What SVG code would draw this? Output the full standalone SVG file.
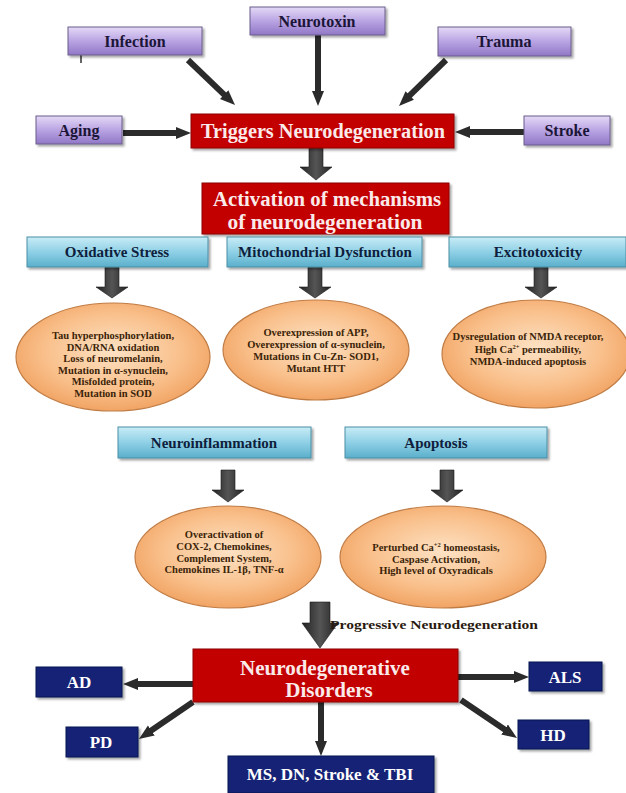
<svg xmlns="http://www.w3.org/2000/svg" width="626" height="793" viewBox="0 0 626 793">
<defs>
<linearGradient id="gPurple" x1="0" y1="0" x2="0" y2="1">
<stop offset="0" stop-color="#e4d9f6"/><stop offset="0.5" stop-color="#b9a4e3"/><stop offset="1" stop-color="#9077c6"/>
</linearGradient>
<linearGradient id="gCyan" x1="0" y1="0" x2="0" y2="1">
<stop offset="0" stop-color="#c8ecf6"/><stop offset="0.5" stop-color="#8fd0e6"/><stop offset="1" stop-color="#5aafcb"/>
</linearGradient>
<radialGradient id="gOrange" cx="0.5" cy="0.45" r="0.6">
<stop offset="0" stop-color="#fde2c4"/><stop offset="0.6" stop-color="#f9bf8a"/><stop offset="1" stop-color="#ef9d5a"/>
</radialGradient>
<linearGradient id="gArrow" x1="0" y1="0" x2="1" y2="0">
<stop offset="0" stop-color="#222"/><stop offset="0.5" stop-color="#555"/><stop offset="1" stop-color="#222"/>
</linearGradient>
<filter id="sh" x="-10%" y="-10%" width="125%" height="140%">
<feDropShadow dx="2" dy="2" stdDeviation="1.2" flood-color="#000" flood-opacity="0.35"/>
</filter>
<marker id="ah" markerUnits="userSpaceOnUse" markerWidth="16" markerHeight="14" refX="1" refY="7" orient="auto">
<path d="M0,1 L15,7 L0,13 z" fill="#2b2b2b"/>
</marker>
<style>
.purple{fill:url(#gPurple);stroke:#6b5c8c;stroke-width:1;filter:url(#sh)}
.cyan{fill:url(#gCyan);stroke:#4b8fa5;stroke-width:1;filter:url(#sh)}
.red{fill:#c30000;stroke:#8e0000;stroke-width:1;filter:url(#sh)}
.navy{fill:#132274;stroke:#0a1450;stroke-width:1;filter:url(#sh)}
.oval{fill:url(#gOrange);stroke:#c07c45;stroke-width:1.2}
text{font-family:"Liberation Serif","Times New Roman",serif;font-weight:bold;text-anchor:middle}
.tp{font-size:16px;fill:#1b1537}
.tc{font-size:15px;fill:#0e1e3c}
.tw{fill:#fbeaea}
.tn{font-size:17px;fill:#ffffff}
.te{font-size:10.5px;fill:#3b2408}
.thin{stroke:#2b2b2b;stroke-width:6;fill:none;marker-end:url(#ah)}
.block{fill:url(#gArrow);stroke:#1a1a1a;stroke-width:0.6}
</style>
</defs>
<rect width="626" height="793" fill="#ffffff"/>

<g id="connectors">
<line class="thin" x1="188" y1="60" x2="224.9" y2="95.3"/>
<line class="thin" x1="318" y1="35" x2="318" y2="92"/>
<line class="thin" x1="446" y1="60" x2="409" y2="96.2"/>
<line class="thin" x1="123" y1="133" x2="177" y2="133"/>
<line class="thin" x1="524" y1="132" x2="469" y2="132"/>
<polygon class="block" points="309,148 323,148 323,167 332,167 316,180 300,167 309,167"/>
<polygon class="block" points="105,267 119,267 119,287 128,287 112,298 96,287 105,287"/>
<polygon class="block" points="308,267 322,267 322,287 331,287 315,298 299,287 308,287"/>
<polygon class="block" points="534,267 548,267 548,287 557,287 541,298 525,287 534,287"/>
<polygon class="block" points="221,470 235,470 235,490 244,490 228,502 212,490 221,490"/>
<polygon class="block" points="440,470 454,470 454,490 463,490 447,502 431,490 440,490"/>
<polygon class="block" points="310,602 330,602 330,623 338,623 320,648 302,623 310,623"/>
<line class="thin" x1="193" y1="684" x2="137" y2="684"/>
<line class="thin" x1="193" y1="702" x2="150.5" y2="731.1"/>
<line class="thin" x1="321" y1="702" x2="321" y2="742"/>
<line class="thin" x1="458" y1="677" x2="515" y2="677"/>
<line class="thin" x1="461" y1="700" x2="505.4" y2="730.1"/>
<line x1="81" y1="55" x2="81" y2="63" stroke="#333" stroke-width="1.5"/>
</g>

<g id="infection"><rect class="purple" x="68" y="27" width="134" height="28"/><text class="tp" x="135" y="47">Infection</text></g>
<g id="neurotoxin"><rect class="purple" x="250" y="7" width="135" height="28"/><text class="tp" x="317" y="27">Neurotoxin</text></g>
<g id="trauma"><rect class="purple" x="438" y="27" width="133" height="29"/><text class="tp" x="504" y="47">Trauma</text></g>
<g id="aging"><rect class="purple" x="36" y="116" width="86" height="28"/><text class="tp" x="79" y="136">Aging</text></g>
<g id="stroke"><rect class="purple" x="524" y="116" width="86" height="29"/><text class="tp" x="567" y="136">Stroke</text></g>

<g id="triggers"><rect class="red" x="191" y="114" width="263" height="34"/><text class="tw" x="323" y="138" font-size="20" textLength="244" lengthAdjust="spacingAndGlyphs">Triggers Neurodegeneration</text></g>

<g id="activation"><rect class="red" x="202" y="183" width="247" height="51"/>
<text class="tw" x="327" y="206" font-size="20" textLength="228" lengthAdjust="spacingAndGlyphs">Activation of mechanisms</text>
<text class="tw" x="325" y="229" font-size="20" textLength="195" lengthAdjust="spacingAndGlyphs">of neurodegeneration</text></g>

<g id="oxidative"><rect class="cyan" x="27" y="237" width="181" height="30"/><text class="tc" x="117" y="257">Oxidative Stress</text></g>
<g id="mito"><rect class="cyan" x="227" y="237" width="195" height="30"/><text class="tc" x="325" y="257">Mitochondrial Dysfunction</text></g>
<g id="excito"><rect class="cyan" x="449" y="237" width="177" height="30"/><text class="tc" x="538" y="257" font-size="15.5">Excitotoxicity</text></g>

<g id="oval-oxidative"><ellipse class="oval" cx="113" cy="357" rx="97" ry="54"/>
<text class="te" x="113" y="339">Tau hyperphosphorylation,</text>
<text class="te" x="113" y="350.5">DNA/RNA oxidation</text>
<text class="te" x="113" y="362">Loss of neuromelanin,</text>
<text class="te" x="113" y="373.5">Mutation in α-synuclein,</text>
<text class="te" x="113" y="385">Misfolded protein,</text>
<text class="te" x="113" y="396.5">Mutation in SOD</text></g>

<g id="oval-mito"><ellipse class="oval" cx="316" cy="350" rx="93" ry="50"/>
<text class="te" x="316" y="336">Overexpression of APP,</text>
<text class="te" x="316" y="348">Overexpression of α-synuclein,</text>
<text class="te" x="316" y="360">Mutations in Cu-Zn- SOD1,</text>
<text class="te" x="316" y="372">Mutant HTT</text></g>

<g id="oval-excito"><ellipse class="oval" cx="536" cy="354" rx="94" ry="54"/>
<text class="te" x="528" y="340">Dysregulation of  NMDA receptor,</text>
<text class="te" x="528" y="353">High Ca<tspan font-size="6.5" dy="-4">2+</tspan><tspan dy="4"> permeability,</tspan></text>
<text class="te" x="528" y="365">NMDA-induced apoptosis</text></g>

<g id="neuroinflammation"><rect class="cyan" x="118" y="427" width="193" height="31"/><text class="tc" x="214" y="448" font-size="16">Neuroinflammation</text></g>
<g id="apoptosis"><rect class="cyan" x="345" y="427" width="202" height="31"/><text class="tc" x="436" y="448" font-size="16">Apoptosis</text></g>

<g id="oval-neuroinflammation"><ellipse class="oval" cx="228" cy="557" rx="93" ry="51"/>
<text class="te" x="224" y="538">Overactivation of</text>
<text class="te" x="224" y="550">COX-2, Chemokines,</text>
<text class="te" x="224" y="561.5">Complement System,</text>
<text class="te" x="224" y="573">Chemokines IL-1β, TNF-α</text></g>

<g id="oval-apoptosis"><ellipse class="oval" cx="443" cy="557" rx="103" ry="51"/>
<text class="te" x="436" y="551">Perturbed Ca<tspan font-size="6.5" dy="-4">+2</tspan><tspan dy="4"> homeostasis,</tspan></text>
<text class="te" x="436" y="562.5">Caspase Activation,</text>
<text class="te" x="436" y="574">High level of Oxyradicals</text></g>

<g id="progressive-label"><text x="434" y="629" font-size="13" fill="#2a1a10" textLength="208" lengthAdjust="spacingAndGlyphs">Progressive Neurodegeneration</text></g>

<g id="disorders"><rect class="red" x="193" y="649" width="265" height="53"/>
<text class="tw" x="325" y="675" font-size="21">Neurodegenerative</text>
<text class="tw" x="329" y="697" font-size="21">Disorders</text></g>

<g id="ad"><rect class="navy" x="36" y="667" width="86" height="30"/><text class="tn" x="79" y="688">AD</text></g>
<g id="pd"><rect class="navy" x="66" y="727" width="72" height="30"/><text class="tn" x="101" y="748">PD</text></g>
<g id="als"><rect class="navy" x="529" y="662" width="73" height="29"/><text class="tn" x="565" y="683">ALS</text></g>
<g id="hd"><rect class="navy" x="518" y="720" width="71" height="29"/><text class="tn" x="553" y="741">HD</text></g>
<g id="ms"><rect class="navy" x="228" y="756" width="206" height="37"/><text class="tn" x="330" y="780" font-size="18">MS, DN, Stroke &amp; TBI</text></g>
</svg>
